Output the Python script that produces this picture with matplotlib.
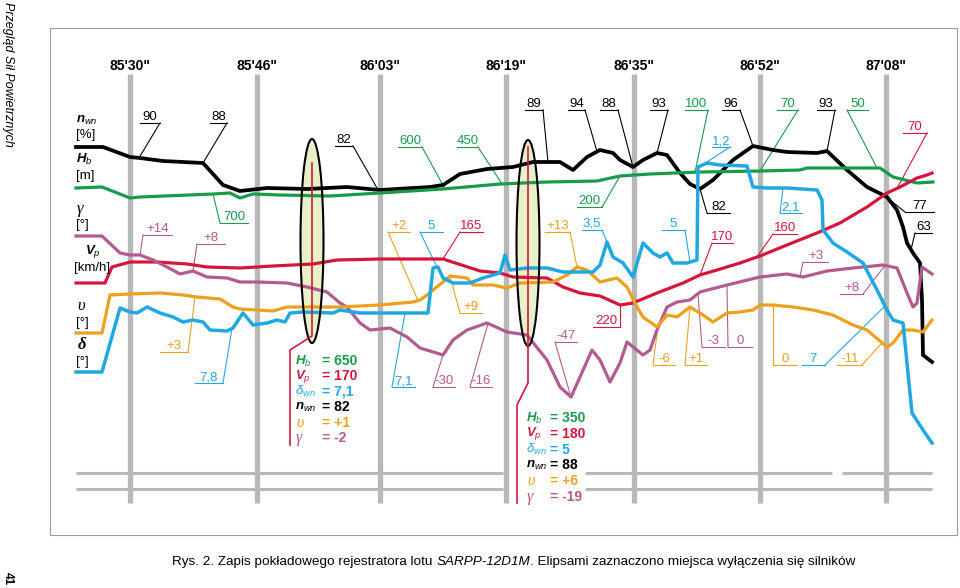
import numpy as np
import matplotlib
matplotlib.use("Agg")
import matplotlib.pyplot as plt
from matplotlib.patches import Ellipse, Rectangle

plt.rcParams['font.family'] = ['Liberation Sans', 'DejaVu Sans']
plt.rcParams['mathtext.fontset'] = 'custom'
plt.rcParams['mathtext.rm'] = 'Liberation Sans'
plt.rcParams['mathtext.it'] = 'Liberation Sans:italic'
plt.rcParams['mathtext.bf'] = 'Liberation Sans:italic:bold'

# time marks along the record
times = ["85'30\"", "85'46\"", "86'03\"", "86'19\"", "86'35\"", "86'52\"", "87'08\""]
time_x = [130, 257, 380, 506, 634, 760, 886]

# n_wn (black)
nwn_x = [76, 103, 130, 140, 163, 203, 223, 240, 267, 307, 347, 380, 430, 443, 460, 487, 513, 533, 560, 573,
         587, 600, 613, 620, 633, 643, 657, 667, 680, 690, 700, 713, 733, 753, 773, 787, 817, 827, 847, 867,
         887, 897, 903, 907, 913, 920, 922, 923, 932]
nwn_y = [147, 147, 157, 158, 161, 163, 185, 191, 188, 189, 187, 190, 187, 185, 174, 169, 167, 162, 162, 170,
         157, 150, 153, 160, 167, 160, 153, 155, 173, 184, 189, 180, 160, 146, 150, 152, 153, 151, 170, 187,
         197, 210, 227, 243, 253, 263, 300, 355, 362]

# H_b (green)
hb_x = [76, 102, 130, 140, 213, 230, 240, 253, 280, 330, 380, 443, 500, 547, 597, 620, 650, 700, 760, 800,
        807, 880, 893, 917, 933]
hb_y = [188, 187, 198, 197, 194, 193, 198, 194, 195, 196, 193, 189, 184, 182, 181, 176, 174, 172, 171, 170,
        168, 168, 177, 183, 182]

# V_p (red)
vp_x = [76, 105, 112, 130, 157, 187, 207, 240, 273, 313, 337, 380, 443, 480, 500, 513, 547, 563, 580, 600,
        620, 633, 657, 683, 700, 717, 740, 760, 787, 817, 840, 867, 887, 900, 917, 927, 932]
vp_y = [283, 283, 267, 262, 262, 264, 267, 268, 266, 264, 260, 259, 259, 271, 273, 277, 278, 287, 293, 296,
        305, 303, 293, 283, 275, 270, 263, 256, 245, 233, 223, 207, 193, 187, 178, 175, 173]

# gamma (purple)
gam_x = [76, 102, 120, 130, 140, 153, 167, 180, 193, 207, 227, 240, 257, 287, 307, 327, 340, 347, 360, 370,
         390, 407, 420, 443, 453, 467, 487, 507, 527, 547, 560, 571, 580, 592, 600, 610, 620, 627, 643, 650,
         657, 667, 677, 690, 700, 727, 760, 787, 803, 827, 853, 883, 897, 907, 913, 917, 922, 932]
gam_y = [236, 236, 253, 255, 255, 260, 267, 274, 271, 277, 278, 282, 282, 283, 287, 292, 303, 307, 323, 330,
         328, 337, 348, 355, 340, 330, 323, 332, 335, 360, 387, 397, 377, 350, 360, 382, 363, 342, 355, 350,
         330, 307, 302, 300, 292, 285, 277, 274, 277, 271, 268, 265, 268, 293, 307, 303, 267, 274]

# upsilon (orange)
ups_x = [76, 102, 110, 130, 160, 183, 197, 220, 233, 240, 273, 287, 307, 340, 380, 413, 420, 427, 433, 443,
         450, 467, 473, 493, 507, 520, 553, 567, 577, 587, 600, 617, 627, 637, 643, 657, 667, 677, 690, 703,
         713, 727, 740, 753, 760, 773, 793, 813, 833, 853, 867, 887, 893, 903, 913, 923, 932]
ups_y = [333, 333, 295, 294, 293, 295, 297, 299, 307, 309, 311, 307, 307, 307, 305, 302, 300, 295, 290, 282,
         276, 278, 285, 285, 288, 283, 282, 275, 267, 270, 282, 278, 287, 307, 317, 327, 315, 317, 307, 315,
         322, 313, 312, 310, 305, 305, 307, 310, 315, 325, 330, 347, 343, 330, 330, 332, 320]

# delta (blue)
dl_x = [76, 102, 120, 130, 137, 147, 160, 173, 183, 193, 203, 210, 227, 233, 243, 253, 267, 277, 285, 290,
        303, 333, 340, 360, 428, 433, 438, 443, 453, 470, 483, 500, 505, 510, 527, 547, 563, 593, 600, 607,
        613, 623, 633, 643, 653, 660, 667, 673, 687, 697, 698, 707, 720, 747, 753, 767, 787, 817, 822, 823,
        833, 847, 863, 877, 887, 893, 903, 907, 912, 923, 932]
dl_y = [372, 372, 308, 312, 313, 307, 313, 317, 322, 320, 322, 330, 331, 328, 313, 325, 323, 320, 322, 313,
        312, 313, 310, 313, 313, 268, 267, 278, 283, 283, 278, 273, 255, 270, 268, 268, 272, 272, 265, 242,
        257, 263, 277, 243, 253, 257, 253, 263, 263, 260, 167, 163, 165, 166, 187, 188, 188, 190, 200, 230,
        243, 252, 263, 290, 310, 320, 323, 363, 413, 430, 443]

# value labels: text, underline x0, x1, underline y, leader end, curve x
nwn_labels = [("90", 140, 160, 123, 'r', 139), ("88", 210, 227, 123, 'r', 203), ("82", 335, 353, 146, 'r', 378),
              ("89", 525, 543, 110, 'r', 548), ("94", 568, 585, 110, 'r', 597), ("88", 600, 618, 110, 'r', 633),
              ("93", 650, 668, 110, 'r', 657), ("96", 722, 740, 110, 'r', 753), ("93", 817, 835, 110, 'r', 827),
              ("82", 707, 730, 213, 'l', 700), ("77", 905, 934, 212, 'l', 885), ("63", 915, 932, 233, 'l', 911)]
hb_labels = [("700", 220, 248, 223, 'l', 213), ("600", 398, 422, 147, 'r', 445), ("450", 457, 478, 147, 'r', 502),
             ("200", 577, 602, 207, 'r', 620), ("100", 685, 708, 110, 'r', 695), ("70", 777, 798, 110, 'r', 760),
             ("50", 847, 868, 110, 'l', 877)]
vp_labels = [("165", 460, 483, 232, 'l', 443), ("220", 593, 620, 327, 'r', 620), ("170", 712, 733, 243, 'l', 700),
             ("160", 773, 797, 234, 'l', 757), ("70", 903, 927, 133, 'r', 897)]
gam_labels = [("+14", 143, 172, 235, 'l', 140), ("+8", 197, 225, 244, 'l', 193), ("-30", 433, 455, 387, 'l', 443),
              ("-16", 470, 492, 387, 'l', 488), ("-47", 555, 577, 342, 'l', 571), ("+3", 803, 828, 262, 'l', 800),
              ("+8", 840, 863, 294, 'r', 885), ("-3", 702, 725, 347, 'l', 698), ("0", 728, 752, 347, 'l', 727)]
ups_labels = [("+3", 160, 188, 352, 'r', 195), ("+2", 388, 410, 232, 'l', 418), ("+9", 460, 482, 313, 'l', 450),
              ("+13", 545, 570, 232, 'r', 577), ("-6", 653, 675, 365, 'l', 658), ("+1", 685, 707, 365, 'l', 690),
              ("0", 773, 797, 365, 'l', 773), ("-11", 837, 862, 365, 'r', 882)]
dl_labels = [("7,8", 195, 223, 383, 'r', 232), ("5", 420, 443, 232, 'l', 437), ("7,1", 392, 415, 387, 'l', 405),
             ("3,5", 582, 602, 230, 'r', 607), ("1,2", 712, 730, 147, 'r', 702), ("5", 662, 685, 230, 'r', 690),
             ("2,1", 780, 802, 213, 'l', 783), ("7", 802, 825, 365, 'r', 885)]

# engine stop readouts
box_symbols = [r"$\mathbf{H}_{b}$", r"$\mathbf{V}_{p}$", r"$\delta_{wn}$", r"$\mathbf{n}_{wn}$", "υ", "γ"]
box1_vals = ["650", "170", "7,1", "82", "+1", "-2"]
box2_vals = ["350", "180", "5", "88", "+6", "-19"]

BLACK, GREEN, RED = "#000000", "#1a9a4b", "#d4163c"
PURPLE, ORANGE, BLUE = "#b35a8f", "#eda01e", "#21a8e1"
GRAY = "#b8b8b8"
box_colors = [GREEN, RED, BLUE, BLACK, ORANGE, PURPLE]

fig = plt.figure(figsize=(9.6, 5.88), dpi=100)
ax = fig.add_axes([0, 0, 1, 1])
ax.set_xlim(0, 960)
ax.set_ylim(588, 0)
ax.axis('off')

# frame, header, page number
ax.add_patch(Rectangle((50, 28), 907, 507, fill=False, ec="#9a9a9a", lw=0.8))
ax.text(8, 2, "Przegląd Sił Powietrznych", rotation=-90, ha='center', va='top',
        fontsize=9, style='italic')
ax.text(8, 579, "41", rotation=-90, ha='center', va='center', fontsize=8.5, weight='bold')

# time marks
for t, x in zip(times, time_x):
    ax.text(x, 66, t, ha='center', va='center', fontsize=10, weight='bold')
ax.vlines(time_x, 74, 503, color=GRAY, lw=3.8, zorder=1)
ax.hlines([473, 473, 473], [76, 585, 842], [503, 832, 932], color=GRAY, lw=2.2, zorder=1)
ax.hlines([489, 489], [76, 585], [503, 932], color=GRAY, lw=2.2, zorder=1)

# ellipses marking the engine stops
for cx, cy, h in [(312, 241, 204), (528, 243, 206)]:
    ax.add_patch(Ellipse((cx, cy), 23, h, fc="#e8f0c8", ec='none', zorder=1.5))
    ax.add_patch(Ellipse((cx, cy), 23, h, fc='none', ec='black', lw=1.5, zorder=4))
ax.plot([312, 312, 290, 290], [163, 336, 350, 445], color=RED, lw=1.2, zorder=4)
ax.plot([528, 528, 517, 517], [147, 383, 405, 503], color=RED, lw=1.2, zorder=4)

curves = [(nwn_x, nwn_y, BLACK, 2.7, nwn_labels), (hb_x, hb_y, GREEN, 2.3, hb_labels),
          (vp_x, vp_y, RED, 2.3, vp_labels), (gam_x, gam_y, PURPLE, 2.3, gam_labels),
          (ups_x, ups_y, ORANGE, 2.3, ups_labels), (dl_x, dl_y, BLUE, 2.5, dl_labels)]

for xs, ys, c, lw, labels in curves:
    ax.plot(xs, ys, color=c, lw=lw, solid_joinstyle='round', zorder=3)
    for txt, x0, x1, uy, end, px in labels:
        py = np.interp(px, xs, ys)
        ex = x0 if end == 'l' else x1
        ax.plot([x0, x1], [uy, uy], color=c, lw=0.8, zorder=2)
        ax.plot([ex, px], [uy, py], color=c, lw=0.8, zorder=2)
        ax.text((x0 + x1) / 2, uy - 3, txt, ha='center', va='baseline', color=c, fontsize=9.5)

# left axis names
left = [(76, 120, r"$\mathbf{n}_{wn}$"), (76, 135, "[%]"),
        (76, 159, r"$\mathbf{H}_{b}$"), (76, 176, "[m]"),
        (76, 225, "[°]"), (85, 252, r"$\mathbf{V}_{p}$"), (74, 268, "[km/h]"),
        (76, 323, "[°]"), (76, 362, "[°]")]
for x, y, s in left:
    ax.text(x, y, s, ha='left', va='center', fontsize=9.5)
ax.text(77, 209, "γ", ha='left', va='center', fontsize=12, family='Liberation Serif', style='italic')
ax.text(77, 306, "υ", ha='left', va='center', fontsize=12, family='Liberation Serif', style='italic')
ax.text(78, 345, "δ", ha='left', va='center', fontsize=12, family='Liberation Serif', style='italic',
        weight='bold')

# readout boxes
for (x0, xe, y0, dy), vals in [((295, 322, 361, 15.4), box1_vals), ((526, 550, 418, 15.8), box2_vals)]:
    for i, (sym, v, c) in enumerate(zip(box_symbols, vals, box_colors)):
        y = y0 + i * dy
        if sym.startswith("$"):
            ax.text(x0, y, sym, ha='left', va='center', fontsize=9.5, color=c)
        else:
            ax.text(x0 + 1, y, sym, ha='left', va='center', fontsize=11.5, color=c,
                    family='Liberation Serif', style='italic')
        ax.text(xe, y, "= " + v, ha='left', va='center', fontsize=10, weight='bold', color=c)

# caption
cap1 = ax.text(172, 568, "Rys. 2. Zapis pokładowego rejestratora lotu", ha='left', va='bottom', fontsize=9.7)
cap2 = ax.annotate("SARPP-12D1M", xy=(1, 0), xycoords=cap1, xytext=(2.7, 0), textcoords='offset points',
                   va='bottom', fontsize=9.7, style='italic')
ax.annotate(". Elipsami zaznaczono miejsca wyłączenia się silników", xy=(1, 0), xycoords=cap2,
            va='bottom', fontsize=9.7)

fig.savefig("out.png", dpi=100)
